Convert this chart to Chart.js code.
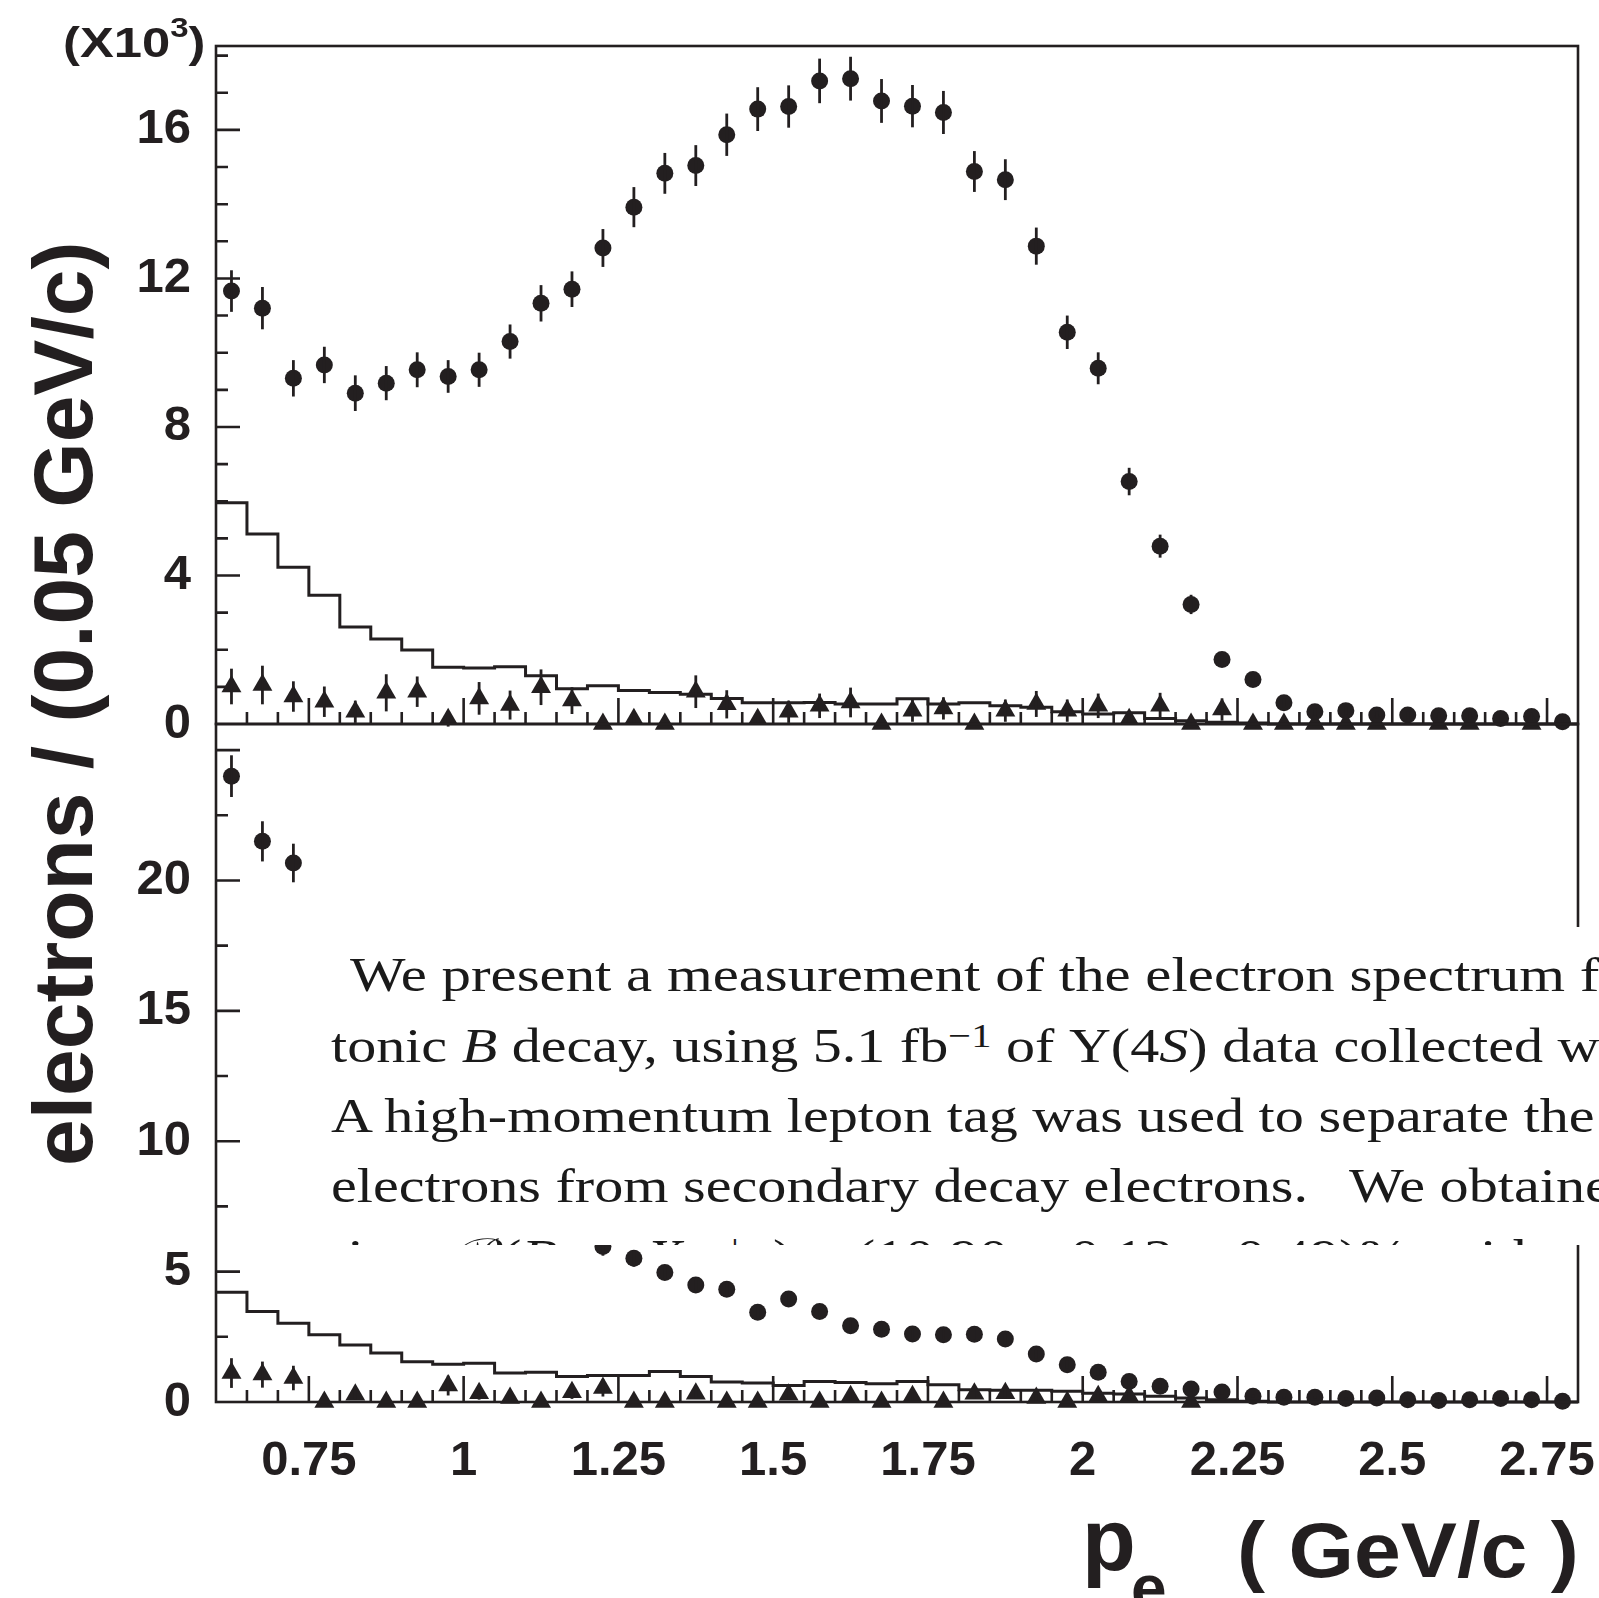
<!DOCTYPE html>
<html lang="en">
<head>
<meta charset="UTF-8" />
<title>Electron momentum spectrum</title>
<script src="https://cdn.jsdelivr.net/npm/chart.js@4.4.1/dist/chart.umd.min.js"></script>
<style>
  * { margin: 0; padding: 0; box-sizing: border-box; }
  html, body { overflow: hidden; }
  body {
    width: 1599px; height: 1598px; background: #fff;
    position: relative;
    font-family: "Liberation Sans", Arial, sans-serif; color: #231f20;
  }
  canvas { position: absolute; left: 0; }
  /* canvases are larger than the plot frames so that Chart.js label margins never move the frames */
  #topPanel { top: -40px; }
  #botPanel { top: 640px; }
  .lbl { position: absolute; white-space: pre; font-weight: bold; line-height: 1; transform-origin: 0 0; z-index: 1; }
  #abstract {
    position: absolute; left: 318px; top: 927px; width: 1281px; height: 318px;
    background: #fff; overflow: hidden; z-index: 2;
    font-family: "Liberation Serif", "DejaVu Serif", serif; font-size: 48px; line-height: 1; color: #1a1a1a;
  }
  #abstract .ln { position: absolute; white-space: pre; transform-origin: 0 0; }
  #abstract sup { font-size: 0.7em; vertical-align: 0.45em; line-height: 0; }
</style>
</head>
<body>
<canvas id="topPanel" width="1680" height="824"></canvas>
<canvas id="botPanel" width="1680" height="958"></canvas>

<div class="lbl" style="left:63px; top:21px; font-size:43px; transform:scaleX(1.18)">(X10<span style="font-size:28px; vertical-align:20px; line-height:0">3</span>)</div>
<div class="lbl" style="left:21px; top:1166px; font-size:84px; transform:rotate(-90deg)">electrons / (0.05 GeV/c)</div>
<div class="lbl" style="left:1082px; top:1496px; font-size:88px">p</div>
<div class="lbl" style="left:1131px; top:1556px; font-size:64px">e</div>
<div class="lbl" style="left:1237px; top:1511px; font-size:78px; transform:scaleX(1.08)">( GeV/c )</div>

<div id="abstract">
  <div class="ln" style="left:32px; top:24px" data-w="1215"><span class="pre">We present a measurement of the electron spectrum</span> from inclusive semilep-</div>
  <div class="ln" style="left:13px; top:95px" data-w="1212"><span class="pre">tonic <i>B</i> decay, using 5.1 fb<sup>−1</sup> of Υ(4<i>S</i>) data collected</span> with the Belle detector.</div>
  <div class="ln" style="left:13px; top:165px" data-w="1178"><span class="pre">A high-momentum lepton tag was used to separate</span> the semileptonic <i>B</i> decay</div>
  <div class="ln" style="left:13px; top:235px" data-w="977"><span class="pre">electrons from secondary decay electrons.</span></div>
  <div class="ln" style="left:1031px; top:235px">We obtained the branching frac-</div>
  <div class="ln" style="left:13px; top:306px" data-w="1077"><span class="pre">tion, ℬ(<i>B</i> → <i>X</i> <i>e</i><sup>+</sup><i>ν</i>) = (10.90 ± 0.12 ± 0.49)%</span>, with minimal model dependence.</div>
</div>

<script>
  // bin centres, p_e in GeV/c (0.05 GeV/c bins)
  const pBins = [0.625, 0.675, 0.725, 0.775, 0.825, 0.875, 0.925, 0.975, 1.025, 1.075, 1.125,
    1.175, 1.225, 1.275, 1.325, 1.375, 1.425, 1.475, 1.525, 1.575, 1.625, 1.675, 1.725,
    1.775, 1.825, 1.875, 1.925, 1.975, 2.025, 2.075, 2.125, 2.175, 2.225, 2.275, 2.325,
    2.375, 2.425, 2.475, 2.525, 2.575, 2.625, 2.675, 2.725, 2.775];

  // upper panel (x10^3)
  const topData = [11.66, 11.2, 9.31, 9.67, 8.91, 9.18, 9.54, 9.36, 9.54, 10.3, 11.33,
    11.71, 12.82, 13.92, 14.83, 15.04, 15.87, 16.56, 16.63, 17.32, 17.38, 16.78, 16.64,
    16.47, 14.88, 14.66, 12.87, 10.55, 9.58, 6.53, 4.79, 3.22, 1.74, 1.2, 0.57,
    0.33, 0.36, 0.24, 0.24, 0.22, 0.22, 0.15, 0.2, 0.06];
  const topDataErr = [0.56, 0.57, 0.49, 0.49, 0.48, 0.46, 0.47, 0.44, 0.46, 0.46, 0.49,
    0.48, 0.51, 0.54, 0.55, 0.55, 0.57, 0.59, 0.57, 0.6, 0.59, 0.59, 0.57,
    0.58, 0.55, 0.55, 0.5, 0.45, 0.43, 0.37, 0.31, 0.26, 0.2, 0.15, 0.12,
    0.1, 0.1, 0.1, 0.1, 0.1, 0.1, 0.1, 0.1, 0.1];
  const topTag = [1.01, 1.05, 0.74, 0.6, 0.33, 0.84, 0.87, 0.13, 0.69, 0.51, 0.99,
    0.63, 0, 0.13, 0, 0.87, 0.53, 0.13, 0.33, 0.49, 0.58, 0, 0.36,
    0.42, 0, 0.36, 0.54, 0.36, 0.49, 0.13, 0.49, 0, 0.39, 0, 0,
    0, 0, 0, null, 0, 0, null, 0, null];
  const topTagErr = [0.48, 0.52, 0.41, 0.41, 0.3, 0.5, 0.41, 0.2, 0.44, 0.39, 0.48,
    0.36, 0, 0.15, 0, 0.44, 0.38, 0.15, 0.3, 0.33, 0.4, 0, 0.3,
    0.3, 0, 0.3, 0.35, 0.3, 0.33, 0.15, 0.35, 0, 0.3, 0, 0,
    0, 0, 0, 0, 0, 0, 0, 0, 0];
  const topHist = [5.96, 5.12, 4.22, 3.47, 2.61, 2.29, 1.99, 1.53, 1.51, 1.54, 1.3,
    0.95, 1.03, 0.9, 0.85, 0.8, 0.69, 0.57, 0.57, 0.58, 0.54, 0.54, 0.68,
    0.54, 0.57, 0.49, 0.45, 0.33, 0.27, 0.3, 0.15, 0.09, 0.05, 0.03, 0,
    0, 0, 0, 0, 0, 0, 0, 0, 0];

  // lower panel
  const botData = [24.0, 21.5, 20.67, null, null, null, null, null, null, null, null,
    null, 5.96, 5.51, 4.97, 4.49, 4.32, 3.44, 3.95, 3.47, 2.92, 2.79, 2.61,
    2.58, 2.6, 2.42, 1.84, 1.43, 1.14, 0.79, 0.6, 0.5, 0.38, 0.22, 0.18,
    0.18, 0.13, 0.15, 0.09, 0.06, 0.09, 0.13, 0.09, 0.03];
  const botDataErr = [0.8, 0.77, 0.74, 0, 0, 0, 0, 0, 0, 0, 0,
    0, 0.35, 0.32, 0.28, 0.28, 0.27, 0.25, 0.26, 0.25, 0.22, 0.22, 0.2,
    0.2, 0.2, 0.2, 0.18, 0.16, 0.14, 0.12, 0.1, 0.1, 0.08, 0.06, 0.05,
    0.05, 0.05, 0.05, 0.04, 0.04, 0.04, 0.04, 0.04, 0.03];
  const botTag = [1.11, 1.05, 0.92, 0, 0.28, 0, 0, 0.63, 0.34, 0.15, 0,
    0.37, 0.54, 0, 0, 0.32, 0, 0, 0.28, 0, 0.22, 0, 0.22,
    0, 0.32, 0.34, 0.15, 0, 0.22, 0.22, null, 0, null, null, null,
    null, null, null, null, null, null, null, null, null];
  const botTagErr = [0.57, 0.5, 0.47, 0, 0.2, 0, 0, 0.38, 0.25, 0.15, 0,
    0.25, 0.33, 0, 0, 0.2, 0, 0, 0.2, 0, 0.15, 0, 0.15,
    0, 0.2, 0.2, 0.15, 0, 0.15, 0.15, 0, 0, 0, 0, 0,
    0, 0, 0, 0, 0, 0, 0, 0, 0];
  const botHist = [4.21, 3.47, 3.02, 2.58, 2.19, 1.88, 1.54, 1.45, 1.49, 1.11, 1.14,
    0.98, 1.02, 1.02, 1.17, 0.98, 0.77, 0.73, 0.63, 0.79, 0.75, 0.7, 0.79,
    0.66, 0.47, 0.45, 0.45, 0.41, 0.34, 0.31, 0.22, 0.15, 0.09, 0.03, 0,
    0, 0, 0, 0, 0, 0, 0, 0, 0];

  const xTicks = [0.75, 1, 1.25, 1.5, 1.75, 2, 2.25, 2.5, 2.75];
  const xTickLabels = ["0.75", "1", "1.25", "1.5", "1.75", "2", "2.25", "2.5", "2.75"];
  const topYTicks = [0, 4, 8, 12, 16];
  const botYTicks = [0, 5, 10, 15, 20];

  const ink = "#231f20";
  const halfBin = 0.025;
  const tickFont = { family: "'Liberation Sans', Arial, sans-serif", weight: "bold", size: 49 };

  // vertical error bars, read from dataset.errors
  const errorBars = {
    id: "errorBars",
    afterDatasetsDraw(chart) {
      const { ctx, scales: { x, y } } = chart;
      ctx.save();
      ctx.strokeStyle = ink;
      ctx.lineWidth = 2.8;
      chart.data.datasets.forEach((ds) => {
        if (!ds.errors) return;
        ds.data.forEach((pt, i) => {
          const e = ds.errors[i];
          if (pt.y == null || !e) return;
          const px = x.getPixelForValue(pt.x);
          ctx.beginPath();
          ctx.moveTo(px, y.getPixelForValue(pt.y - e));
          ctx.lineTo(px, y.getPixelForValue(pt.y + e));
          ctx.stroke();
        });
      });
      ctx.restore();
    },
  };

  // ROOT style frame with inward ticks
  const frame = {
    id: "frame",
    afterDraw(chart, args, o) {
      const { ctx, chartArea: a, scales: { x, y } } = chart;
      ctx.save();
      ctx.strokeStyle = ink;
      ctx.lineWidth = 2.6;
      ctx.strokeRect(a.left, a.top, a.right - a.left, a.bottom - a.top);
      ctx.beginPath();
      for (let k = 1; k * o.minor <= y.max; k++) {
        const v = k * o.minor;
        const py = y.getPixelForValue(v);
        const len = Math.abs(v / o.major - Math.round(v / o.major)) < 1e-6 ? 24 : 12;
        ctx.moveTo(a.left, py);
        ctx.lineTo(a.left + len, py);
      }
      for (let k = 13; k <= 55; k++) {
        const px = x.getPixelForValue(k * 0.05);
        const len = k % 5 === 0 ? 26 : 12;
        ctx.moveTo(px, a.bottom);
        ctx.lineTo(px, a.bottom - len);
      }
      ctx.stroke();
      ctx.restore();
    },
  };

  function histPoints(vals) {
    const pts = pBins.map((p, i) => ({ x: p - halfBin, y: vals[i] }));
    pts.push({ x: pBins[pBins.length - 1] + halfBin, y: vals[vals.length - 1] });
    return pts;
  }

  function makePanel(id, hist, tag, tagErr, data, dataErr, yMax, yTicks, minor, major, showX, padding) {
    return new Chart(document.getElementById(id), {
      type: "scatter",
      data: {
        datasets: [
          {
            type: "line", data: histPoints(hist), stepped: true, borderColor: ink,
            borderWidth: 3, pointRadius: 0, fill: false, clip: false,
          },
          {
            data: pBins.map((p, i) => ({ x: p, y: tag[i] })), errors: tagErr,
            pointStyle: "triangle", pointRadius: 11.5, backgroundColor: ink, borderWidth: 0, clip: false,
          },
          {
            data: pBins.map((p, i) => ({ x: p, y: data[i] })), errors: dataErr,
            pointStyle: "circle", pointRadius: 8.5, backgroundColor: ink, borderWidth: 0, clip: false,
          },
        ],
      },
      options: {
        responsive: false,
        animation: false,
        devicePixelRatio: 1,
        layout: { padding },
        plugins: {
          legend: { display: false },
          tooltip: { enabled: false },
          frame: { minor, major },
        },
        scales: {
          x: {
            type: "linear", min: 0.6, max: 2.8, display: showX,
            grid: { display: false, drawTicks: false }, border: { display: false },
            afterBuildTicks: (s) => { s.ticks = xTicks.map((v) => ({ value: v })); },
            afterFit: (s) => { if (showX) s.height = 196; },
            ticks: {
              padding: 30, color: ink, font: tickFont, autoSkip: false, maxRotation: 0,
              callback: (v, i) => xTickLabels[i],
            },
          },
          y: {
            type: "linear", min: 0, max: yMax,
            grid: { display: false, drawTicks: false }, border: { display: false },
            afterBuildTicks: (s) => { s.ticks = yTicks.map((v) => ({ value: v })); },
            afterFit: (s) => { s.width = 216; },
            ticks: { padding: 25, color: ink, font: tickFont },
          },
        },
      },
      plugins: [errorBars, frame],
    });
  }

  // frame edges: left 216, right 1578, top 46, divider 724, bottom 1402
  makePanel("topPanel", topHist, topTag, topTagErr, topData, topDataErr, 18.26, topYTicks, 1, 4, false,
    { top: 86, right: 102, left: 0, bottom: 60 });
  makePanel("botPanel", botHist, botTag, botTagErr, botData, botDataErr, 26.0, botYTicks, 2.5, 5, true,
    { top: 84, right: 102, left: 0, bottom: 0 });

  // squeeze each abstract line so its visible part spans the same width as in the figure
  let k = 1;
  document.querySelectorAll("#abstract .ln").forEach((ln) => {
    const pre = ln.querySelector(".pre");
    if (pre && ln.dataset.w) k = ln.dataset.w / pre.getBoundingClientRect().width;
    ln.style.transform = "scaleX(" + k + ")";
  });
</script>
</body>
</html>
